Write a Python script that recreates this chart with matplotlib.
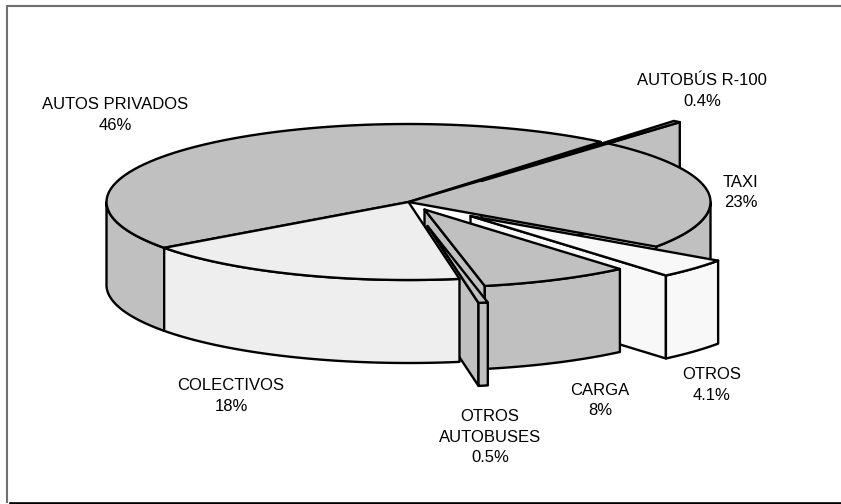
import numpy as np
import matplotlib
matplotlib.use("Agg")
import matplotlib.pyplot as plt
from matplotlib.patches import Polygon

# Data
categories = ["AUTOS PRIVADOS", "COLECTIVOS", "OTROS\nAUTOBUSES", "CARGA", "OTROS", "TAXI", "AUTOBÚS R-100"]
shares = [46.0, 17.7, 0.5, 8.0, 4.1, 23.3, 0.4]
share_labels = ["46%", "18%", "0.5%", "8%", "4.1%", "23%", "0.4%"]

# Layout (pixels)
W, H = 841, 504
CX, CY, A, B, DEPTH = 408.5, 202.0, 302.0, 78.0, 83.0
START_ANGLE = 50.4
OFFSETS = [(0, 0), (0, 0), (19, 24), (16, 7.5), (62, 14), (0, 0), (73, -21)]
LABEL_POS = [(115, 115), (231, 396), (490, 437), (600, 400.5), (712, 385), (741, 192.5), (702, 91)]
GRAY, LIGHT, WHITE = "#c0c0c0", "#eeeeee", "#f8f8f8"
COLORS = [GRAY, LIGHT, GRAY, GRAY, WHITE, GRAY, GRAY]
LW = 1.7

plt.rcParams["font.family"] = ["Liberation Sans", "DejaVu Sans"]
fig = plt.figure(figsize=(W / 100, H / 100), dpi=100)
ax = fig.add_axes([0, 0, 1, 1])
ax.set_xlim(0, W)
ax.set_ylim(H, 0)
ax.axis("off")

# Slice angles, counter-clockwise from the start angle
ends = START_ANGLE + np.cumsum(shares) * 3.6
starts = np.r_[START_ANGLE, ends[:-1]]


def rim(i, a0, a1):
    t = np.radians(np.linspace(a0, a1, 80))
    dx, dy = OFFSETS[i]
    return np.c_[CX + dx + A * np.cos(t), CY + dy - B * np.sin(t)]


def apex(i):
    dx, dy = OFFSETS[i]
    return np.array([[CX + dx, CY + dy]])


def poly(pts, color, z):
    ax.add_patch(Polygon(pts, closed=True, facecolor=color, edgecolor="black",
                         linewidth=LW, joinstyle="round", zorder=z))


def top(i, z):
    poly(np.r_[apex(i), rim(i, starts[i], ends[i])], COLORS[i], z)


def outer(i, a0, a1, z):
    r = rim(i, a0, a1)
    poly(np.r_[r, (r + [0, DEPTH])[::-1]], COLORS[i], z)


def radial(i, angle, z):
    p = np.r_[apex(i), rim(i, angle, angle)[:1]]
    poly(np.r_[p, (p + [0, DEPTH])[::-1]], COLORS[i], z)


AUTOS, COLE, BUSES, CARGA, OTROS, TAXI, R100 = range(7)

radial(R100, starts[R100], 1)
outer(AUTOS, 180, ends[AUTOS], 2)
outer(TAXI, starts[TAXI], 360, 2)
top(AUTOS, 3)
top(TAXI, 3)
top(R100, 4)
radial(OTROS, starts[OTROS], 5)
outer(OTROS, starts[OTROS], ends[OTROS], 5)
top(OTROS, 5)
radial(CARGA, starts[CARGA], 6)
outer(CARGA, starts[CARGA], ends[CARGA], 6)
top(CARGA, 6)
radial(BUSES, starts[BUSES], 7)
outer(BUSES, starts[BUSES], ends[BUSES], 7)
top(BUSES, 7)
outer(COLE, starts[COLE], ends[COLE], 8)
top(COLE, 8)

for name, pct, (x, y) in zip(categories, share_labels, LABEL_POS):
    ax.text(x, y, f"{name}\n{pct}", ha="center", va="center", fontsize=12,
            linespacing=1.47, color="black", zorder=10)

# Chart frame
ax.plot([7, 7, W], [502, 5.5, 5.5], color="#707070", lw=1.5, zorder=0, clip_on=False,
        solid_joinstyle="miter")
ax.plot([10, W], [502.8, 502.8], color="black", lw=1.9, zorder=0)

fig.savefig("out.png", dpi=100)
